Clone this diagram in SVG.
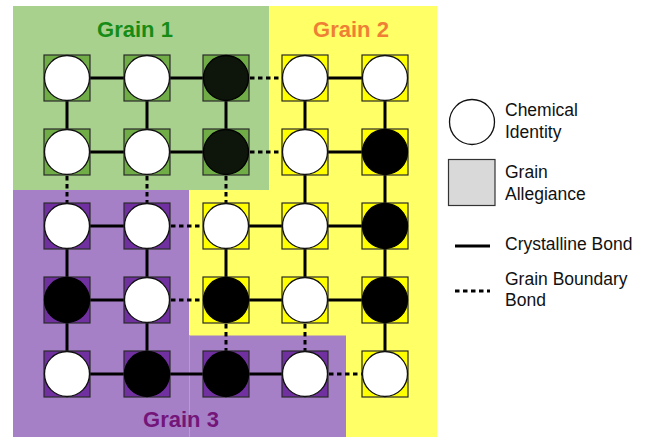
<svg xmlns="http://www.w3.org/2000/svg" width="645" height="437" viewBox="0 0 645 437">
<style>
.sq{stroke:#2a2a2a;stroke-width:1.2}
.g1{fill:#70ad47}.g2{fill:#ffff00}.g3{fill:#7030a0}
.w{fill:#ffffff;stroke:#111;stroke-width:1.3}
.b{fill:#000000;stroke:#000;stroke-width:1.3}
.b1{fill:#0e160b;stroke:#000;stroke-width:1.3}
.s{stroke:#000;stroke-width:3;fill:none}
.d{stroke:#000;stroke-width:3;fill:none;stroke-dasharray:4.5 3.5}
.lab{font-family:"Liberation Sans",Arial,sans-serif;font-weight:bold;font-size:22px;text-anchor:middle}
.leg{font-family:"Liberation Sans",Arial,sans-serif;font-size:17.5px;fill:#111}
</style>
<rect width="645" height="437" fill="#ffffff"/>
<g id="regions">
<rect x="13" y="6" width="256" height="184" fill="#a9d18e"/>
<rect x="269" y="6" width="168" height="431" fill="#ffff66"/>
<rect x="189" y="190" width="80" height="247" fill="#ffff66"/>
<rect x="13" y="190" width="176" height="247" fill="#a680c6"/>
<rect x="189" y="335.5" width="157" height="101.5" fill="#a680c6"/>
<line x1="189.5" y1="335.5" x2="189.5" y2="437" stroke="#b99ad2" stroke-width="1"/>
</g>
<g id="connectors">
<path class="s" d="M67 78H226M305 78H385M67 152H226M305 152H385M67 226H147M226 226H385M67 300H147M226 300H385M67 374H305"/>
<path class="d" d="M226 78H305M226 152H305M147 226H226M147 300H226M305 374H385"/>
<path class="s" d="M67 78V152M67 226V374M147 78V152M147 226V374M226 78V152M226 226V300M305 78V300M385 78V374"/>
<path class="d" d="M67 152V226M147 152V226M226 152V226M226 300V374M305 300V374"/>
</g>
<g id="n11"><rect class="sq g1" x="44" y="55" width="46" height="46"/><circle class="w" cx="67" cy="78" r="22.5"/></g>
<g id="n12"><rect class="sq g1" x="124" y="55" width="46" height="46"/><circle class="w" cx="147" cy="78" r="22.5"/></g>
<g id="n13"><rect class="sq g1" x="203" y="55" width="46" height="46"/><circle class="b1" cx="226" cy="78" r="22.5"/></g>
<g id="n14"><rect class="sq g2" x="282" y="55" width="46" height="46"/><circle class="w" cx="305" cy="78" r="22.5"/></g>
<g id="n15"><rect class="sq g2" x="362" y="55" width="46" height="46"/><circle class="w" cx="385" cy="78" r="22.5"/></g>
<g id="n21"><rect class="sq g1" x="44" y="129" width="46" height="46"/><circle class="w" cx="67" cy="152" r="22.5"/></g>
<g id="n22"><rect class="sq g1" x="124" y="129" width="46" height="46"/><circle class="w" cx="147" cy="152" r="22.5"/></g>
<g id="n23"><rect class="sq g1" x="203" y="129" width="46" height="46"/><circle class="b1" cx="226" cy="152" r="22.5"/></g>
<g id="n24"><rect class="sq g2" x="282" y="129" width="46" height="46"/><circle class="w" cx="305" cy="152" r="22.5"/></g>
<g id="n25"><rect class="sq g2" x="362" y="129" width="46" height="46"/><circle class="b" cx="385" cy="152" r="22.5"/></g>
<g id="n31"><rect class="sq g3" x="44" y="203" width="46" height="46"/><circle class="w" cx="67" cy="226" r="22.5"/></g>
<g id="n32"><rect class="sq g3" x="124" y="203" width="46" height="46"/><circle class="w" cx="147" cy="226" r="22.5"/></g>
<g id="n33"><rect class="sq g2" x="203" y="203" width="46" height="46"/><circle class="w" cx="226" cy="226" r="22.5"/></g>
<g id="n34"><rect class="sq g2" x="282" y="203" width="46" height="46"/><circle class="w" cx="305" cy="226" r="22.5"/></g>
<g id="n35"><rect class="sq g2" x="362" y="203" width="46" height="46"/><circle class="b" cx="385" cy="226" r="22.5"/></g>
<g id="n41"><rect class="sq g3" x="44" y="277" width="46" height="46"/><circle class="b" cx="67" cy="300" r="22.5"/></g>
<g id="n42"><rect class="sq g3" x="124" y="277" width="46" height="46"/><circle class="w" cx="147" cy="300" r="22.5"/></g>
<g id="n43"><rect class="sq g2" x="203" y="277" width="46" height="46"/><circle class="b" cx="226" cy="300" r="22.5"/></g>
<g id="n44"><rect class="sq g2" x="282" y="277" width="46" height="46"/><circle class="w" cx="305" cy="300" r="22.5"/></g>
<g id="n45"><rect class="sq g2" x="362" y="277" width="46" height="46"/><circle class="b" cx="385" cy="300" r="22.5"/></g>
<g id="n51"><rect class="sq g3" x="44" y="351" width="46" height="46"/><circle class="w" cx="67" cy="374" r="22.5"/></g>
<g id="n52"><rect class="sq g3" x="124" y="351" width="46" height="46"/><circle class="b" cx="147" cy="374" r="22.5"/></g>
<g id="n53"><rect class="sq g3" x="203" y="351" width="46" height="46"/><circle class="b" cx="226" cy="374" r="22.5"/></g>
<g id="n54"><rect class="sq g3" x="282" y="351" width="46" height="46"/><circle class="w" cx="305" cy="374" r="22.5"/></g>
<g id="n55"><rect class="sq g2" x="362" y="351" width="46" height="46"/><circle class="w" cx="385" cy="374" r="22.5"/></g>
<g id="labels">
<text class="lab" x="135" y="37" fill="#168c16">Grain 1</text>
<text class="lab" x="351" y="37" fill="#ef7f35">Grain 2</text>
<text class="lab" x="181" y="427" fill="#74157a">Grain 3</text>
</g>
<g id="legend">
<circle cx="472" cy="122" r="22.5" fill="#fff" stroke="#111" stroke-width="1.3"/>
<text class="leg" x="505" y="116">Chemical</text>
<text class="leg" x="505" y="137.5">Identity</text>
<rect x="448.5" y="159.5" width="46.5" height="46" fill="#d9d9d9" stroke="#333" stroke-width="1.2"/>
<text class="leg" x="505" y="178">Grain</text>
<text class="leg" x="505" y="200">Allegiance</text>
<line x1="455" y1="246" x2="490" y2="246" stroke="#000" stroke-width="3"/>
<text class="leg" x="505" y="250">Crystalline Bond</text>
<line x1="455" y1="291" x2="490" y2="291" stroke="#000" stroke-width="3" stroke-dasharray="4.5 3.5"/>
<text class="leg" x="505" y="285">Grain Boundary</text>
<text class="leg" x="505" y="306">Bond</text>
</g>
</svg>
